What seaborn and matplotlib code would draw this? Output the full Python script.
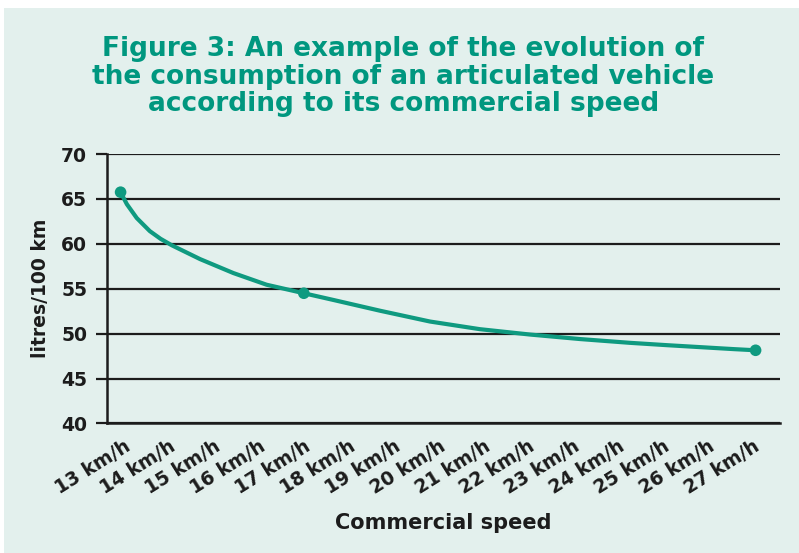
import numpy as np
import matplotlib
matplotlib.use("Agg")
import matplotlib.pyplot as plt
from matplotlib.patches import Rectangle
import seaborn as sns

# ---- data ----
speed_labels = ["13 km/h", "14 km/h", "15 km/h", "16 km/h", "17 km/h",
                "18 km/h", "19 km/h", "20 km/h", "21 km/h", "22 km/h",
                "23 km/h", "24 km/h", "25 km/h", "26 km/h", "27 km/h"]
speed_values = [13, 14, 15, 16, 17, 18, 19, 20, 21, 22, 23, 24, 25, 26, 27]

curve_speed = [12.81, 12.95, 13.17, 13.46, 13.70, 13.95, 14.58, 15.32, 16.06, 16.89,
               17.55, 18.59, 19.70, 20.81, 21.93, 23.04, 24.15, 24.97, 26.46, 26.95]
curve_litres = [65.75, 64.41, 62.87, 61.42, 60.56, 59.84, 58.30, 56.75, 55.45, 54.5,
                53.75, 52.55, 51.35, 50.5, 49.9, 49.4, 48.98, 48.72, 48.28, 48.15]

marker_speed = [12.81, 16.89, 26.95]
marker_litres = [65.75, 54.5, 48.15]

y_ticks = [40, 45, 50, 55, 60, 65, 70]

title_text = ("Figure 3: An example of the evolution of\n"
              "the consumption of an articulated vehicle\n"
              "according to its commercial speed")

# ---- style ----
BG = "#e3f0ed"
TEAL = "#0f9a80"
TITLE = "#00977f"
DARK = "#1c1c1c"

sns.set_theme(style="white")
plt.rcParams["font.family"] = ["DejaVu Sans"]
plt.rcParams["font.weight"] = "bold"

fig = plt.figure(figsize=(7.99, 5.53), dpi=100)
fig.patch.set_facecolor("white")
fig.patches.append(Rectangle((4 / 799, 0), 1, 1 - 8 / 553, transform=fig.transFigure,
                             facecolor=BG, edgecolor="none", zorder=-10))

ax = fig.add_axes([0.1335, 0.2342, 0.8431, 0.4873])
ax.set_facecolor(BG)
ax.set_axisbelow(True)

sns.lineplot(x=curve_speed, y=curve_litres, ax=ax, color=TEAL, linewidth=3.0,
             estimator=None, sort=False, zorder=3)
sns.scatterplot(x=marker_speed, y=marker_litres, ax=ax, color=TEAL, s=70,
                edgecolor="none", zorder=4)
ax.lines[0].set_solid_joinstyle("round")

ax.set_xlim(12.5, 27.5)
ax.set_ylim(40, 70)
ax.set_yticks(y_ticks)
ax.set_yticklabels([str(v) for v in y_ticks], fontsize=13.5, fontweight="bold", color=DARK)
ax.set_xticks(speed_values)
ax.set_xticklabels(speed_labels, rotation=32, ha="right", va="center",
                   rotation_mode="anchor", fontsize=13.5, fontweight="bold", color=DARK)
ax.set_xticks(np.arange(12.5, 28.0, 1.0), minor=True)

ax.tick_params(axis="x", which="major", length=0, pad=15)
ax.tick_params(axis="x", which="minor", length=5, width=1.6, color=DARK, direction="out")
ax.tick_params(axis="y", which="major", length=8, width=1.6, color=DARK, direction="out", pad=6, left=True)

ax.yaxis.grid(True, color=DARK, linewidth=1.6)
ax.xaxis.grid(False)
for s in ["top", "right"]:
    ax.spines[s].set_visible(False)
for s in ["left", "bottom"]:
    ax.spines[s].set_color(DARK)
    ax.spines[s].set_linewidth(1.8)

ax.set_xlabel("Commercial speed", fontsize=15, fontweight="bold", color=DARK, labelpad=11)
ax.set_ylabel("litres/100 km", fontsize=13.5, fontweight="bold", color=DARK, labelpad=8)

fig.text(0.505, 1 - 36 / 553, title_text, ha="center", va="top", fontsize=19,
         fontweight="bold", color=TITLE, linespacing=1.08)

fig.savefig("out.png", dpi=100, facecolor=fig.get_facecolor())
